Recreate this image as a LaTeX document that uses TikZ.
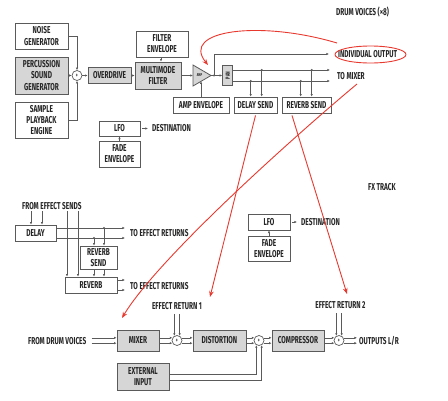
\documentclass[tikz,border=0pt]{standalone}
\usepackage{fontspec}
\setmainfont{Fira Sans}[FakeStretch=0.65]
\usetikzlibrary{arrows.meta,calc}
\definecolor{lnc}{HTML}{5A5A5A}
\definecolor{bxc}{HTML}{D6D6D6}
\definecolor{rdc}{HTML}{E8392F}
\definecolor{txc}{HTML}{262626}
\begin{document}
\begin{tikzpicture}[x=1pt,y=-1pt,
  lbl/.style={font=\fontsize{10}{11.2}\selectfont\bfseries, text=txc},
  box/.style={draw=lnc, line width=0.8pt, fill=white, align=center, inner sep=0pt, lbl},
  gbox/.style={box, fill=bxc},
  txt/.style={lbl, inner sep=0pt, anchor=west},
  wire/.style={draw=lnc, line width=0.6pt},
  arr/.style={wire, -{Latex[length=2.6pt,width=2.4pt]}},
  sumc/.style={circle, draw=lnc, line width=0.7pt, fill=white, minimum size=10pt, inner sep=0pt, font=\fontsize{6}{6}\selectfont\bfseries, text=txc},
  jdot/.style={circle, fill=lnc, inner sep=0pt, minimum size=2.4pt},
  redarr/.style={draw=rdc, line width=0.9pt, -{Stealth[length=6pt,width=4.6pt]}}
]
\useasboundingbox (0,0) rectangle (448,400);

% ---------------- DRUM VOICES ----------------
\node[txt] (drumv) at (336,12) {DRUM VOICES (×8)};
\node[box, minimum width=53pt, minimum height=26pt] (noise) at (41.5,36) {NOISE\\GENERATOR};
\node[gbox, minimum width=53pt, minimum height=37pt] (perc) at (41.5,75.5) {PERCUSSION\\SOUND\\GENERATOR};
\node[box, minimum width=53pt, minimum height=36pt] (sample) at (41.5,120) {SAMPLE\\PLAYBACK\\ENGINE};
\node[sumc] (sum0) at (77,75.5) {+};
\node[gbox, minimum width=43pt, minimum height=16pt] (od) at (109.5,75.5) {OVERDRIVE};
\node[gbox, minimum width=46pt, minimum height=27pt] (filter) at (158,75.5) {MULTIMODE\\FILTER};
\node[box, minimum width=52pt, minimum height=26pt] (fenv) at (162,44) {FILTER\\ENVELOPE};
\draw[draw=lnc, fill=bxc, line width=0.8pt] (193,65) -- (211,75.5) -- (193,86) -- cycle;
\node[font=\fontsize{4.2}{4.2}\selectfont\bfseries, text=txc, inner sep=0pt] (amp) at (199.5,75.5) {AMP};
\coordinate (ampin) at (193,75.5);
\coordinate (ampout) at (211,75.5);
\coordinate (ampbot) at (201,81.3);
\node[box, minimum width=56pt, minimum height=16pt] (ampenv) at (201,105) {AMP ENVELOPE};
\node[gbox, minimum width=10pt, minimum height=20pt] (pan) at (227.7,75.5) {\rotatebox{90}{\fontsize{6}{6}\selectfont PAN}};
\node[txt] (indiv) at (338,54.5) {INDIVIDUAL OUTPUT};
\node[txt] (tomix) at (337,76) {TO MIXER};
\node[box, minimum width=43pt, minimum height=16pt] (delsend) at (255.5,105) {DELAY SEND};
\node[box, minimum width=49pt, minimum height=16pt] (revsend) at (306.5,105) {REVERB SEND};
\node[box, minimum width=41pt, minimum height=15pt] (lfo1) at (119.5,128.5) {LFO};
\node[box, minimum width=41pt, minimum height=26pt] (fade1) at (119.5,154) {FADE\\ENVELOPE};
\node[txt] (dest1) at (152,128.5) {DESTINATION};

\draw[arr] (noise.east) -| (sum0.north);
\draw[arr] (perc.east) -- (sum0.west);
\draw[arr] (sample.east) -| (sum0.south);
\draw[arr] (sum0.east) -- (od.west);
\draw[arr] (od.east) -- (filter.west);
\coordinate (fe) at (161,57);
\draw[arr] (fe) -- (fe |- filter.north);
\draw[arr] (filter.east) -- (ampin);
\draw[arr] (ampenv.north -| ampbot) -- (ampbot);
\coordinate (jA) at (214,75.5);
\coordinate (indivend) at (329,54);
\draw[arr] (ampout) -- (pan.west);
\draw[arr] (jA) |- (indivend);
\node[jdot] at (jA) {};
\coordinate (panA) at (330,70);
\coordinate (panB) at (330,81);
\draw[arr] (pan.east |- panA) -- (panA);
\draw[arr] (pan.east |- panB) -- (panB);
\coordinate (d1) at ([xshift=-4.8pt]delsend.north);
\coordinate (d2) at ([xshift=6.2pt]delsend.north);
\coordinate (r1) at ([xshift=-5.8pt]revsend.north);
\coordinate (r2) at ([xshift=5.2pt]revsend.north);
\draw[arr] (d1 |- panB) -- (d1);
\draw[arr] (d2 |- panA) -- (d2);
\draw[arr] (r1 |- panB) -- (r1);
\draw[arr] (r2 |- panA) -- (r2);
\node[jdot] at (d1 |- panB) {};
\node[jdot] at (d2 |- panA) {};
\node[jdot] at (r1 |- panB) {};
\node[jdot] at (r2 |- panA) {};
\draw[arr] ([xshift=2pt]lfo1.east) -- ([xshift=-4pt]dest1.west);
\draw[arr] (fade1.north) -- (lfo1.south);

% ---------------- FX TRACK ----------------
\node[txt] (fxtrack) at (368,187) {FX TRACK};
\node[txt] (fromsends) at (22,206) {FROM EFFECT SENDS};
\node[box, minimum width=41pt, minimum height=16pt] (delay) at (35.5,233) {DELAY};
\node[box, minimum width=37pt, minimum height=23pt] (revsend2) at (98.5,257.5) {REVERB\\SEND};
\node[box, minimum width=52pt, minimum height=16pt] (reverb) at (91,285) {REVERB};
\node[txt] (toret1) at (130,233) {TO EFFECT RETURNS};
\node[txt] (toret2) at (130,286) {TO EFFECT RETURNS};
\coordinate (dA) at (125,228);
\coordinate (dB) at (125,238);
\coordinate (rA) at (125,280);
\coordinate (rB) at (125,290);
\coordinate (fs0) at ([yshift=-1.5pt]fromsends.south);
\coordinate (fs1) at ([xshift=-4.5pt]delay.north);
\coordinate (fs2) at ([xshift=6.5pt]delay.north);
\coordinate (rv1) at ([xshift=-24pt]reverb.north);
\coordinate (rv2) at ([xshift=-13pt]reverb.north);
\draw[arr] (fs1 |- fs0) -- (fs1);
\draw[arr] (fs2 |- fs0) -- (fs2);
\draw[arr] (rv1 |- fs0) -- (rv1);
\draw[arr] (rv2 |- fs0) -- (rv2);
\draw[arr] (delay.east |- dA) -- (dA);
\draw[arr] (delay.east |- dB) -- (dB);
\coordinate (t1) at ([xshift=-4.5pt]revsend2.north);
\coordinate (t2) at ([xshift=5.5pt]revsend2.north);
\draw[arr] (t1 |- dB) -- (t1);
\draw[arr] (t2 |- dA) -- (t2);
\node[jdot] at (t1 |- dB) {};
\node[jdot] at (t2 |- dA) {};
\draw[arr] (t1 |- revsend2.south) -- (t1 |- reverb.north);
\draw[arr] (t2 |- revsend2.south) -- (t2 |- reverb.north);
\draw[arr] (reverb.east |- rA) -- (rA);
\draw[arr] (reverb.east |- rB) -- (rB);

\node[box, minimum width=42pt, minimum height=16pt] (lfo2) at (269,222) {LFO};
\node[box, minimum width=42pt, minimum height=25pt] (fade2) at (269,248.5) {FADE\\ENVELOPE};
\node[txt] (dest2) at (301,222) {DESTINATION};
\draw[arr] ([xshift=2pt]lfo2.east) -- ([xshift=-4pt]dest2.west);
\draw[arr] (fade2.north) -- (lfo2.south);

% ---------------- OUTPUT CHAIN ----------------
\node[txt] (fromdrum) at (28,341) {FROM DRUM VOICES};
\node[gbox, minimum width=42pt, minimum height=21pt] (mixer) at (138,340.5) {MIXER};
\node[sumc] (sum1) at (177,340.5) {+};
\node[txt, anchor=center] (effret1) at (177,306) {EFFECT RETURN 1};
\node[gbox, minimum width=53pt, minimum height=21pt] (dist) at (219.5,340.5) {DISTORTION};
\node[sumc] (sum2) at (259,340.5) {+};
\node[gbox, minimum width=52pt, minimum height=21pt] (comp) at (298,340.5) {COMPRESSOR};
\node[sumc] (sum3) at (339,340.5) {+};
\node[txt, anchor=center] (effret2) at (340.5,305) {EFFECT RETURN 2};
\node[txt] (outs) at (359,341) {OUTPUTS L/R};
\node[gbox, minimum width=52pt, minimum height=27pt] (ext) at (143,376.5) {EXTERNAL\\INPUT};

\coordinate (fd) at ([xshift=5pt]fromdrum.east);
\draw[arr] (fd |- sum1.150) -- (mixer.west |- sum1.150);
\draw[arr] (fd |- sum1.210) -- (mixer.west |- sum1.210);
\draw[arr] (mixer.east |- sum1.150) -- (sum1.150);
\draw[arr] (mixer.east |- sum1.210) -- (sum1.210);
\draw[arr] (sum1.30) -- (dist.west |- sum1.30);
\draw[arr] (sum1.330) -- (dist.west |- sum1.330);
\draw[arr] (dist.east |- sum2.150) -- (sum2.150);
\draw[arr] (dist.east |- sum2.210) -- (sum2.210);
\draw[arr] (sum2.30) -- (comp.west |- sum2.30);
\draw[arr] (sum2.330) -- (comp.west |- sum2.330);
\draw[arr] (comp.east |- sum3.150) -- (sum3.150);
\draw[arr] (comp.east |- sum3.210) -- (sum3.210);
\coordinate (oe) at ([xshift=-2pt]outs.west);
\draw[arr] (sum3.30) -- (oe |- sum3.30);
\draw[arr] (sum3.330) -- (oe |- sum3.330);
\coordinate (e1) at ([yshift=-4pt]effret1.south);
\coordinate (e2) at ([yshift=-4.5pt]effret2.south);
\draw[arr] (sum1.120 |- e1) -- (sum1.120);
\draw[arr] (sum1.60 |- e1) -- (sum1.60);
\draw[arr] (sum3.120 |- e2) -- (sum3.120);
\draw[arr] (sum3.60 |- e2) -- (sum3.60);
\draw[arr] ([yshift=2.5pt]ext.east) -| (sum2.240);
\draw[arr] ([yshift=-3.5pt]ext.east) -| (sum2.300);

% ---------------- RED ANNOTATIONS ----------------
\draw[draw=rdc, line width=0.9pt] (370.5,54.5) ellipse (35.5 and 8.5);
\coordinate (rc0) at (337,43);
\coordinate (rcA) at (208,65);
\draw[redarr] (rc0) .. controls (260,20) and (180,30) .. (rcA);
\coordinate (rm0) at (357,84);
\coordinate (rm1) at (122,318);
\draw[redarr] (rm0) .. controls (297,134) and (158,258) .. (rm1);
\coordinate (rd0) at ([yshift=-2pt]delsend.south);
\coordinate (rd1) at (210,297);
\draw[redarr] (rd0) -- (rd1);
\coordinate (rr0) at ([xshift=-14.5pt,yshift=-2pt]revsend.south);
\coordinate (rr1) at (347,294);
\draw[redarr] (rr0) -- (rr1);
\end{tikzpicture}
\end{document}
